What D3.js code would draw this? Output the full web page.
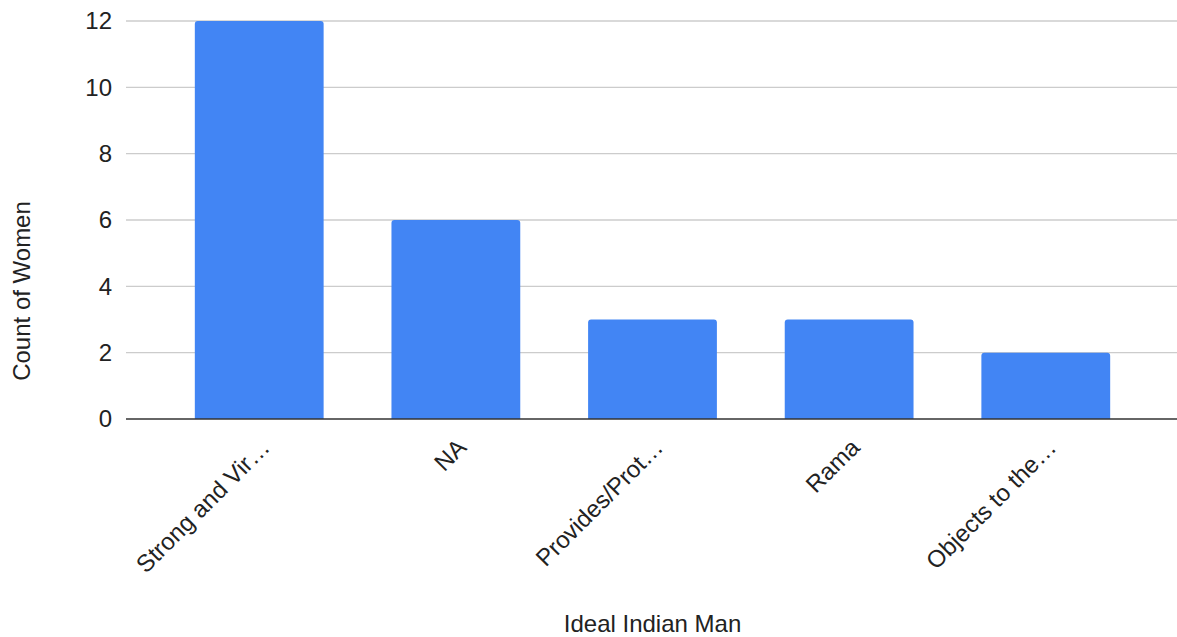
<!DOCTYPE html>
<html>
<head>
<meta charset="utf-8">
<script src="https://cdn.jsdelivr.net/npm/d3@7"></script>
<style>
  html, body { margin: 0; padding: 0; background: #fff; }
  svg { display: block; font-family: "Liberation Sans", Arial, Helvetica, sans-serif; }
</style>
</head>
<body>
<svg id="chart" width="1177" height="637"></svg>
<script>
// Answers grouped by the "Ideal Indian Man" description
const categories = ["Strong and Vir…", "NA", "Provides/Prot…", "Rama", "Objects to the…"];
const counts = [12, 6, 3, 3, 2];
const yTicks = [0, 2, 4, 6, 8, 10, 12];

const svg = d3.select("#chart");
const plot = { left: 126, right: 1179, top: 21, bottom: 419 };
const fontSize = 24;

const x = d3.scaleBand()
  .domain(categories)
  .range([plot.left, plot.right])
  .paddingInner(0.345)
  .paddingOuter(0.35);

const y = d3.scaleLinear()
  .domain([0, 12])
  .range([plot.bottom, plot.top]);

// Horizontal gridlines
svg.append("g")
  .selectAll("line")
  .data(yTicks.filter(d => d !== 0))
  .join("line")
  .attr("x1", plot.left)
  .attr("x2", plot.right)
  .attr("y1", d => y(d))
  .attr("y2", d => y(d))
  .attr("stroke", "#cccccc")
  .attr("stroke-width", 1.3);

// Y axis tick labels
const yAxis = d3.axisLeft(y).tickValues(yTicks).tickSize(0).tickPadding(14);
const gy = svg.append("g").attr("transform", `translate(${plot.left},0)`).call(yAxis);
gy.select(".domain").remove();
gy.selectAll("text")
  .attr("font-size", fontSize)
  .attr("fill", "#222")
  .attr("font-family", "Liberation Sans, Arial, sans-serif");

// Bars with slightly rounded top corners
const r = 3;
svg.append("g")
  .selectAll("path")
  .data(categories.map((c, i) => ({ c, v: counts[i] })))
  .join("path")
  .attr("fill", "#4285f4")
  .attr("d", d => {
    const x0 = x(d.c), w = x.bandwidth();
    const yt = y(d.v), yb = y(0);
    return `M${x0},${yb} L${x0},${yt + r} Q${x0},${yt} ${x0 + r},${yt}` +
           ` L${x0 + w - r},${yt} Q${x0 + w},${yt} ${x0 + w},${yt + r} L${x0 + w},${yb} Z`;
  });

// Baseline
svg.append("line")
  .attr("x1", plot.left)
  .attr("x2", plot.right)
  .attr("y1", y(0))
  .attr("y2", y(0))
  .attr("stroke", "#333333")
  .attr("stroke-width", 1.5);

// X axis labels, rotated
const xAxis = d3.axisBottom(x).tickSize(0).tickPadding(0);
const gx = svg.append("g").attr("transform", `translate(0,${plot.bottom})`).call(xAxis);
gx.select(".domain").remove();
gx.selectAll("text")
  .attr("font-size", fontSize)
  .attr("fill", "#222")
  .attr("font-family", "Liberation Sans, Arial, sans-serif")
  .attr("text-anchor", "end")
  .attr("dy", null)
  .attr("y", 0)
  .attr("transform", "translate(12,30) rotate(-45)");

// Axis titles
svg.append("text")
  .attr("x", (plot.left + plot.right) / 2)
  .attr("y", 632)
  .attr("text-anchor", "middle")
  .attr("font-size", fontSize)
  .attr("fill", "#222")
  .text("Ideal Indian Man");

svg.append("text")
  .attr("transform", "translate(30,291) rotate(-90)")
  .attr("text-anchor", "middle")
  .attr("font-size", fontSize)
  .attr("fill", "#222")
  .text("Count of Women");
</script>
</body>
</html>
